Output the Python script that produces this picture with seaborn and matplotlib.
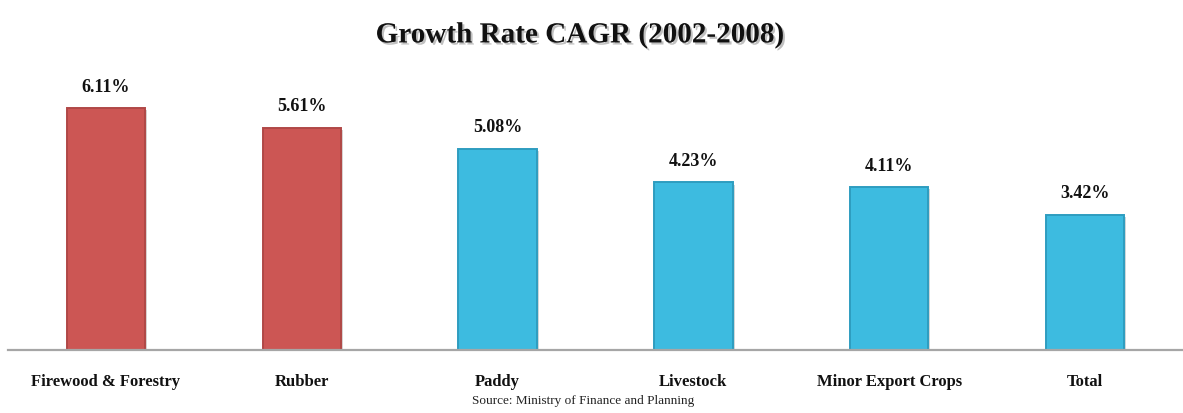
import matplotlib
matplotlib.use("Agg")
import matplotlib.pyplot as plt
import matplotlib.patheffects as pe
import seaborn as sns
import pandas as pd

categories = ["Firewood & Forestry", "Rubber", "Paddy", "Livestock",
              "Minor Export Crops", "Total"]
cagr = [6.11, 5.61, 5.08, 4.23, 4.11, 3.42]
groups = ["above", "above", "other", "other", "other", "other"]

palette = {"above": "#CC5654", "other": "#3DBBE0"}
edge = {"above": "#B04846", "other": "#2E9DC0"}

df = pd.DataFrame({"category": categories, "cagr": cagr, "group": groups})

sns.set_theme(style="white")
plt.rcParams["font.family"] = ["Liberation Serif", "DejaVu Serif"]

fig = plt.figure(figsize=(11.83, 4.13), dpi=100)
ax = fig.add_axes([8 / 1183, 63 / 413, 1 - 8 / 1183, 280 / 413])

sns.barplot(data=df, x="category", y="cagr", hue="group", palette=palette,
            width=0.40, dodge=False, legend=False, saturation=1, ax=ax)

for patch, g in zip(ax.patches, groups):
    patch.set_edgecolor(edge[g])
    patch.set_linewidth(1.4)
    patch.set_path_effects([pe.SimplePatchShadow(offset=(1.5, -1.5), alpha=0.2),
                            pe.Normal()])

for i, v in enumerate(cagr):
    ax.annotate(f"{v:.2f}%", (i, v), xytext=(0, 9), textcoords="offset points",
                ha="center", va="bottom", fontsize=13, fontweight="bold",
                color="#111111")

ax.set_xlim(-0.5, 5.5)
ax.set_ylim(0, 280 / 39.6)
ax.set_xlabel("")
ax.set_ylabel("")
ax.set_yticks([])
ax.tick_params(axis="x", length=0, pad=17)
for lbl in ax.get_xticklabels():
    lbl.set_fontsize(12)
    lbl.set_fontweight("bold")
    lbl.set_color("#111111")

for side in ["top", "left", "right"]:
    ax.spines[side].set_visible(False)
ax.spines["bottom"].set_color("#A6A6A6")
ax.spines["bottom"].set_linewidth(1.6)

fig.text(0.49, 0.915, "Growth Rate CAGR (2002-2008)", ha="center", va="center",
         fontsize=21, fontweight="bold", color="#111111",
         path_effects=[pe.withSimplePatchShadow(offset=(1.5, -1.5), alpha=0.25)])

fig.text(0.493, 0.03, "Source: Ministry of Finance and Planning", ha="center",
         va="center", fontsize=9.5, color="#222222")

fig.savefig("out.png", dpi=100)
